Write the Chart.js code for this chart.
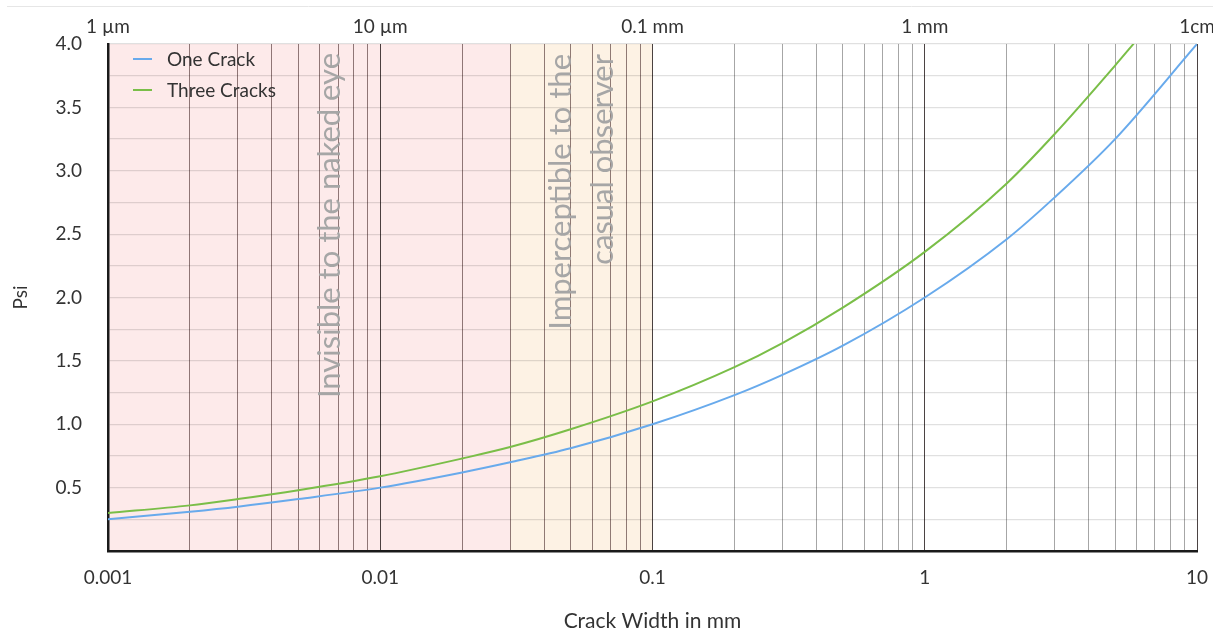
<!DOCTYPE html>
<html>
<head>
<meta charset="utf-8">
<script src="https://cdn.jsdelivr.net/npm/chart.js@4"></script>
<style>
  body { margin: 0; background: #fff; }
  #wrap { width: 1213px; height: 639px; position: relative; }
</style>
</head>
<body>
<div id="wrap"><canvas id="chart"></canvas></div>
<script>
// crack width in mm (x), pressure in psi (y)
const oneCrackWidths = [0.001, 0.002, 0.003, 0.005, 0.01, 0.02, 0.03, 0.05, 0.1, 0.2, 0.3, 0.5, 1, 2, 3, 5, 10];
const oneCrack = [0.25, 0.31, 0.35, 0.41, 0.50, 0.62, 0.70, 0.81, 1.00, 1.23, 1.39, 1.62, 2.00, 2.46, 2.79, 3.25, 4.00];
const threeCrackWidths = [0.001, 0.002, 0.003, 0.005, 0.01, 0.02, 0.03, 0.05, 0.1, 0.2, 0.3, 0.5, 1, 2, 3, 5, 6];
const threeCracks = [0.30, 0.36, 0.41, 0.48, 0.59, 0.73, 0.82, 0.96, 1.18, 1.45, 1.64, 1.92, 2.36, 2.90, 3.29, 3.83, 4.03];

const bottomTickValues = [0.001, 0.01, 0.1, 1, 10];
const bottomTickLabels = ['0.001', '0.01', '0.1', '1', '10'];
const topTickLabels = ['1 µm', '10 µm', '0.1 mm', '1 mm', '1cm'];

// shaded zones [from, to]
const invisibleZone = [0.001, 0.03];
const imperceptibleZone = [0.03, 0.1];

const FONT = 'Lato, "Open Sans", sans-serif';

function decadeIndex(v) {
    const l = Math.log10(v);
    if (Math.abs(l - Math.round(l)) > 1e-6) return -1;
    return bottomTickValues.findIndex(t => Math.abs(Math.log10(t) - l) < 1e-6);
}

// keep only 1..9 x 10^n ticks (drop the 1.5 ones chart.js adds)
function wholeSignificands(scale) {
    scale.ticks = scale.ticks.filter(t => {
        const s = t.value / Math.pow(10, Math.floor(Math.log10(t.value) + 1e-9));
        return Math.abs(s - Math.round(s)) < 1e-6;
    });
}

function toPoints(xs, ys) {
    return xs.map((x, i) => ({ x: x, y: ys[i] }));
}

const zonesPlugin = {
    id: 'zones',
    beforeDraw(chart) {
        const { ctx, chartArea, scales } = chart;
        const x = scales.x;
        ctx.save();
        // thin separator at the very top
        ctx.strokeStyle = '#e6e6e6';
        ctx.lineWidth = 1;
        ctx.beginPath();
        ctx.moveTo(7, 6.5);
        ctx.lineTo(1213, 6.5);
        ctx.stroke();

        ctx.fillStyle = 'rgb(253,234,234)';
        let a = x.getPixelForValue(invisibleZone[0]), b = x.getPixelForValue(invisibleZone[1]);
        ctx.fillRect(a, chartArea.top, b - a, chartArea.bottom - chartArea.top);
        ctx.fillStyle = 'rgb(253,242,228)';
        a = x.getPixelForValue(imperceptibleZone[0]); b = x.getPixelForValue(imperceptibleZone[1]);
        ctx.fillRect(a, chartArea.top, b - a, chartArea.bottom - chartArea.top);
        ctx.restore();
    },
    beforeDatasetsDraw(chart) {
        const { ctx, chartArea } = chart;
        ctx.save();
        ctx.fillStyle = '#a6a6a6';
        ctx.font = '31px ' + FONT;
        ctx.textAlign = 'right';
        ctx.textBaseline = 'middle';
        const label = (text, cx, topY) => {
            ctx.save();
            ctx.translate(cx, topY);
            ctx.rotate(-Math.PI / 2);
            ctx.fillText(text, 0, 0);
            ctx.restore();
        };
        label('Invisible to the naked eye', 330, chartArea.top + 9);
        label('Imperceptible to the', 561, chartArea.top + 10);
        label('casual observer', 603, chartArea.top + 10);
        ctx.restore();
    },
    afterDraw(chart) {
        const { ctx } = chart;
        ctx.save();
        ctx.font = '19px ' + FONT;
        ctx.textBaseline = 'middle';
        ctx.lineWidth = 2;
        chart.data.datasets.forEach((ds, i) => {
            const y = 59 + i * 31;
            ctx.strokeStyle = ds.borderColor;
            ctx.beginPath();
            ctx.moveTo(133, y);
            ctx.lineTo(152, y);
            ctx.stroke();
            ctx.fillStyle = '#333';
            ctx.fillText(ds.label, 167, y + 1);
        });
        ctx.restore();
    }
};

new Chart(document.getElementById('chart').getContext('2d'), {
    type: 'line',
    data: {
        datasets: [{
            label: 'One Crack',
            data: toPoints(oneCrackWidths, oneCrack),
            borderColor: 'rgb(104,170,236)',
            borderWidth: 2,
            pointRadius: 0,
            cubicInterpolationMode: 'monotone'
        }, {
            label: 'Three Cracks',
            data: toPoints(threeCrackWidths, threeCracks),
            borderColor: 'rgb(122,190,72)',
            borderWidth: 2,
            pointRadius: 0,
            cubicInterpolationMode: 'monotone'
        }]
    },
    options: {
        responsive: true,
        maintainAspectRatio: false,
        animation: false,
        layout: { padding: { left: 0, right: 16, top: 0, bottom: 0 } },
        plugins: {
            legend: { display: false },
            tooltip: { enabled: false }
        },
        scales: {
            x: {
                type: 'logarithmic',
                position: 'bottom',
                min: 0.001,
                max: 10,
                afterBuildTicks: wholeSignificands,
                afterFit(scale) { scale.height = 88; scale.paddingLeft = 0; scale.paddingRight = 0; },
                border: { display: true, color: '#1a1a1a', width: 2.5 },
                grid: {
                    drawTicks: false,
                    lineWidth: 1,
                    color(c) {
                        const v = c.tick && c.tick.value;
                        if (v === undefined) return 'rgba(0,0,0,0.3)';
                        if (decadeIndex(v) >= 0) return 'rgba(30,20,20,0.8)';
                        return v < 0.1 ? 'rgba(70,40,40,0.6)' : 'rgba(0,0,0,0.35)';
                    }
                },
                ticks: {
                    autoSkip: false,
                    maxRotation: 0,
                    padding: 15,
                    color: '#333',
                    font: { family: FONT, size: 19 },
                    callback(v) {
                        const i = decadeIndex(v);
                        return i >= 0 ? bottomTickLabels[i] : '';
                    }
                },
                title: {
                    display: true,
                    text: 'Crack Width in mm',
                    color: '#333',
                    font: { family: FONT, size: 21 },
                    padding: { top: 0, bottom: 5 }
                }
            },
            x2: {
                type: 'logarithmic',
                position: 'top',
                min: 0.001,
                max: 10,
                afterBuildTicks: wholeSignificands,
                afterFit(scale) { scale.height = 44; scale.paddingLeft = 0; scale.paddingRight = 0; },
                border: { display: false },
                grid: { display: false, drawTicks: false },
                ticks: {
                    autoSkip: false,
                    maxRotation: 0,
                    padding: 6,
                    color: '#333',
                    font: { family: FONT, size: 19 },
                    callback(v) {
                        const i = decadeIndex(v);
                        return i >= 0 ? topTickLabels[i] : '';
                    }
                }
            },
            y: {
                min: 0,
                max: 4,
                afterFit(scale) { scale.width = 108; scale.paddingTop = 0; scale.paddingBottom = 0; },
                border: { display: true, color: '#1a1a1a', width: 2.5 },
                grid: { drawTicks: false, color: 'rgba(0,0,0,0.12)', lineWidth: 1.2 },
                ticks: {
                    stepSize: 0.25,
                    autoSkip: false,
                    padding: 26,
                    color: '#333',
                    font: { family: FONT, size: 19 },
                    callback(v) {
                        return (v > 0 && Math.abs(v * 2 - Math.round(v * 2)) < 1e-9) ? v.toFixed(1) : '';
                    }
                },
                title: {
                    display: true,
                    text: 'Psi',
                    color: '#333',
                    font: { family: FONT, size: 19 },
                    padding: { top: 9, bottom: 0 }
                }
            }
        }
    },
    plugins: [zonesPlugin]
});
</script>
</body>
</html>
